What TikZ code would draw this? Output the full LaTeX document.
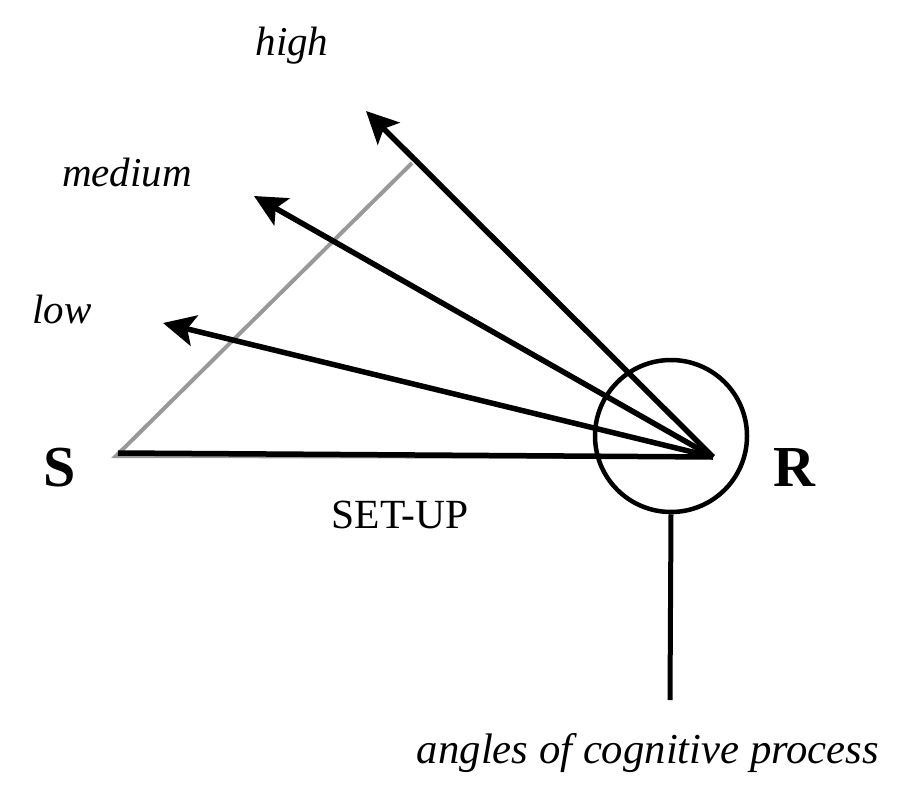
\documentclass[tikz,border=0pt]{standalone}
\usepackage{fontspec}
\setmainfont{Liberation Serif}
\usetikzlibrary{arrows.meta}
\begin{document}
\begin{tikzpicture}[x=1pt,y=-1pt,
  lbl/.style={inner sep=0pt,anchor=base,font=\fontsize{41}{46}\selectfont\itshape},
  big/.style={inner sep=0pt,anchor=base,font=\fontsize{58}{64}\selectfont\bfseries},
  arr/.style={line width=5.5pt,-{Stealth[length=32pt,width=31pt,inset=7pt]}},
  ray/.style={line width=5.5pt},
  guide/.style={line width=4pt,color=black!40}]
\useasboundingbox (0,0) rectangle (900,795);
% points
\coordinate (apex) at (713,457);
\coordinate (base) at (118,453);
\coordinate (gtop) at (412,163);
\coordinate (gbase) at (116,456);
\coordinate (gend) at (700,457);
\coordinate (thigh) at (366,111);
\coordinate (tmed) at (254,196);
\coordinate (tlow) at (163,323);
\coordinate (stem) at (670,700);
% gray guide
\draw[guide] (gtop) -- (gbase) -- (gend);
% baseline
\draw[ray] (base) -- (apex);
% arrows
\draw[arr] (apex) -- (thigh);
\draw[arr] (apex) -- (tmed);
\draw[arr] (apex) -- (tlow);
% circle and stem
\node[circle,draw,line width=4.5pt,minimum size=152pt,inner sep=0pt] (circ) at (671,436) {};
\draw[line width=5pt] (circ.south) -- (stem);
% labels
\node[big] (S) at (60,486) {S};
\node[big] (R) at (794,486) {R};
\node[inner sep=0pt,anchor=base,font=\fontsize{41.5}{46}\selectfont] (setup) at (400,528) {SET-UP};
\node[lbl] (high) at (292,55) {high};
\node[lbl] (medium) at (127,186) {medium};
\node[lbl] (low) at (62,323) {low};
\node[lbl,font=\fontsize{42.7}{48}\selectfont\itshape] (angles) at (648,763) {angles of cognitive process};
\end{tikzpicture}
\end{document}
